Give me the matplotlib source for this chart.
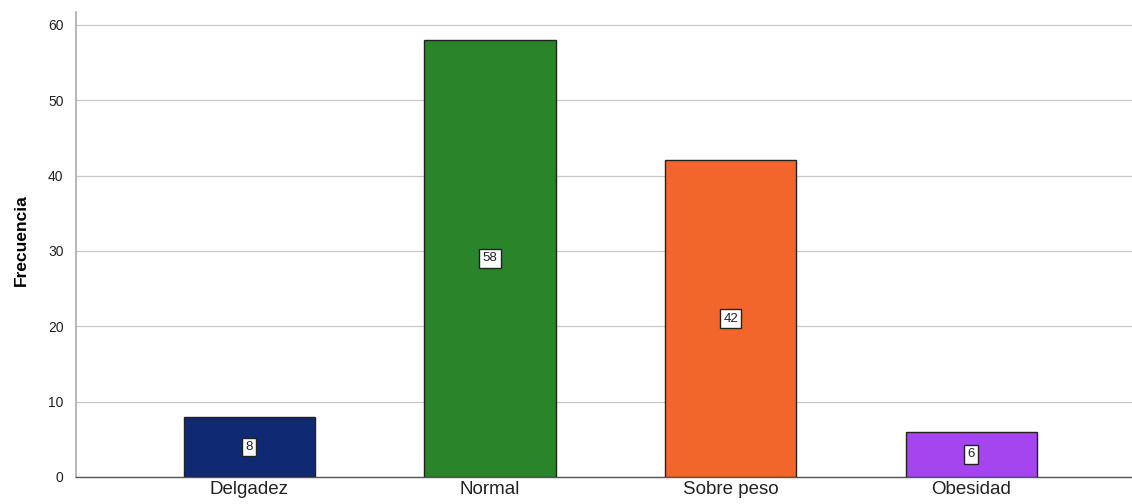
import matplotlib
matplotlib.use("Agg")
import matplotlib.pyplot as plt

plt.rcParams["font.family"] = ["Liberation Sans", "DejaVu Sans"]

categories = ["Delgadez", "Normal", "Sobre peso", "Obesidad"]
values = [8, 58, 42, 6]
colors = ["#0f2a72", "#2a842a", "#f2662c", "#a545f0"]
yticks = [0, 10, 20, 30, 40, 50, 60]

fig = plt.figure(figsize=(11.32, 5.04), dpi=100)
ax = fig.add_axes([76/1132, 1-477/504, 1-76/1132, (477-12)/504])

x = list(range(len(categories)))
bars = ax.bar(x, values, width=0.545, color=colors, edgecolor="#222222", linewidth=1.0, zorder=3)
for xi, v in zip(x, values):
    ax.text(xi, v/2, str(v), ha="center", va="center", fontsize=9.5, zorder=4, color="#222222",
            bbox=dict(boxstyle="square,pad=0.25", facecolor="white", edgecolor="#222222", linewidth=1.0))

ax.set_xlim(-0.72, 3.667)
ax.set_ylim(0, 61.7)
ax.set_yticks(yticks)
ax.set_xticks(x)
ax.set_xticklabels(categories, fontsize=13.5, color="#222222")
ax.tick_params(axis="x", length=0, pad=3)
ax.tick_params(axis="y", length=0, labelsize=10, colors="#222222", pad=9)
ax.yaxis.grid(True, color="#c8c8c8", linewidth=0.9, zorder=0)
ax.set_axisbelow(True)
for s in ["top", "right"]:
    ax.spines[s].set_visible(False)
ax.spines["left"].set_color("#aaaaaa")
ax.spines["left"].set_linewidth(1.2)
ax.spines["bottom"].set_color("#555555")
ax.spines["bottom"].set_linewidth(1.0)
ax.set_ylabel("Frecuencia", fontsize=12.5, fontweight="bold")
ax.yaxis.set_label_coords(-0.045, 0.51)

fig.savefig("out.png", dpi=100)
